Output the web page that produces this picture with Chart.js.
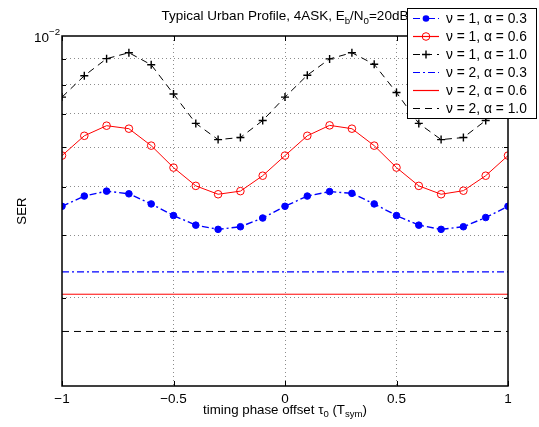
<!DOCTYPE html>
<html>
<head>
<meta charset="utf-8">
<script src="https://cdn.jsdelivr.net/npm/chart.js@4.4.1/dist/chart.umd.min.js"></script>
<style>
  html, body { margin: 0; padding: 0; background: #fff; }
  #wrap { width: 539px; height: 427px; position: relative; }
</style>
</head>
<body>
<div id="wrap"><canvas id="serChart"></canvas></div>
<script>
// timing phase offset (T_sym)
const tau = [-1, -0.9, -0.8, -0.7, -0.6, -0.5, -0.4, -0.3, -0.2, -0.1, 0,
             0.1, 0.2, 0.3, 0.4, 0.5, 0.6, 0.7, 0.8, 0.9, 1];

// nu = 1 curves
const serNu1A03 = [0.00457, 0.00479, 0.00490, 0.00484, 0.00462, 0.00438, 0.00419, 0.00411, 0.00416, 0.00433, 0.00457,
                   0.00479, 0.00489, 0.00485, 0.00462, 0.00438, 0.00419, 0.00411, 0.00416, 0.00434, 0.00457];
const serNu1A06 = [0.00577, 0.00632, 0.00662, 0.00653, 0.00604, 0.00546, 0.00502, 0.00483, 0.00490, 0.00526, 0.00577,
                   0.00632, 0.00663, 0.00653, 0.00604, 0.00546, 0.00502, 0.00483, 0.00491, 0.00526, 0.00577];
const serNu1A10 = [0.00755, 0.00833, 0.00901, 0.00926, 0.00876, 0.00766, 0.00669, 0.00621, 0.00627, 0.00678, 0.00755,
                   0.00835, 0.00900, 0.00926, 0.00878, 0.00771, 0.00669, 0.00621, 0.00627, 0.00678, 0.00755];

// nu = 2 curves are flat over the whole range
const tauEnds = [-1, 1];
const serNu2A03 = [0.00338, 0.00338];
const serNu2A06 = [0.00305, 0.00305];
const serNu2A10 = [0.00257, 0.00257];

const xTickVals = [-1, -0.5, 0, 0.5, 1];
const yGridVals = [0.003, 0.004, 0.005, 0.006, 0.007, 0.008, 0.009];

const legendLabels = [
  "\u03bd = 1, \u03b1 = 0.3",
  "\u03bd = 1, \u03b1 = 0.6",
  "\u03bd = 1, \u03b1 = 1.0",
  "\u03bd = 2, \u03b1 = 0.3",
  "\u03bd = 2, \u03b1 = 0.6",
  "\u03bd = 2, \u03b1 = 1.0",
];

const FONT = "'Liberation Sans', Arial, Helvetica, sans-serif";
const BLUE = "#0000ff", RED = "#ff0000", BLACK = "#000000";
const DASH = [7, 5];
const DASHDOT = [7, 3, 2, 3];
const gridColor = "rgba(0,0,0,0.45)";

const pts = (xs, ys) => xs.map((x, i) => ({ x: x, y: ys[i] }));

const series = [
  { data: pts(tau, serNu1A03), color: BLUE, dash: DASHDOT, marker: "dot" },
  { data: pts(tau, serNu1A06), color: RED, dash: [], marker: "circle" },
  { data: pts(tau, serNu1A10), color: BLACK, dash: DASH, marker: "plus" },
  { data: pts(tauEnds, serNu2A03), color: BLUE, dash: DASHDOT, marker: null },
  { data: pts(tauEnds, serNu2A06), color: RED, dash: [], marker: null },
  { data: pts(tauEnds, serNu2A10), color: BLACK, dash: DASH, marker: null },
];

function pointOpts(s) {
  if (s.marker === "dot") return { pointStyle: "circle", pointRadius: 3.3, pointBackgroundColor: s.color, pointBorderColor: s.color, pointBorderWidth: 1 };
  if (s.marker === "circle") return { pointStyle: "circle", pointRadius: 3.8, pointBackgroundColor: "rgba(0,0,0,0)", pointBorderColor: s.color, pointBorderWidth: 1 };
  if (s.marker === "plus") return { pointStyle: "cross", pointRadius: 4, pointBorderColor: s.color, pointBorderWidth: 1.4 };
  return { pointRadius: 0 };
}

function drawMarker(ctx, kind, x, y, color) {
  ctx.save();
  ctx.setLineDash([]);
  ctx.strokeStyle = color;
  ctx.fillStyle = color;
  if (kind === "dot") {
    ctx.beginPath(); ctx.arc(x, y, 3.3, 0, Math.PI * 2); ctx.fill();
  } else if (kind === "circle") {
    ctx.lineWidth = 1;
    ctx.beginPath(); ctx.arc(x, y, 3.8, 0, Math.PI * 2); ctx.stroke();
  } else if (kind === "plus") {
    ctx.lineWidth = 1.4;
    ctx.beginPath();
    ctx.moveTo(x - 4, y); ctx.lineTo(x + 4, y);
    ctx.moveTo(x, y - 4); ctx.lineTo(x, y + 4);
    ctx.stroke();
  }
  ctx.restore();
}

// draws a run of [text, "sub"|"sup"|null] pieces, returns total width
function richText(ctx, parts, size, x, y, measureOnly) {
  let w = 0;
  parts.forEach(([t, kind]) => {
    const fs = kind ? size * 0.72 : size;
    ctx.font = fs + "px " + FONT;
    const dy = kind === "sub" ? size * 0.3 : kind === "sup" ? -size * 0.45 : 0;
    if (!measureOnly) ctx.fillText(t, x + w, y + dy);
    w += ctx.measureText(t).width;
  });
  return w;
}

const decor = {
  id: "decor",
  afterDatasetsDraw(chart) {
    const { ctx, chartArea: a, scales } = chart;
    ctx.save();
    ctx.strokeStyle = "#000";
    ctx.lineWidth = 1;
    ctx.setLineDash([]);
    // inner tick marks
    ctx.beginPath();
    xTickVals.forEach(v => {
      const px = Math.round(scales.x.getPixelForValue(v)) + 0.5;
      ctx.moveTo(px, a.bottom); ctx.lineTo(px, a.bottom - 5);
      ctx.moveTo(px, a.top); ctx.lineTo(px, a.top + 5);
    });
    yGridVals.forEach(v => {
      const py = Math.round(scales.y.getPixelForValue(v)) + 0.5;
      ctx.moveTo(a.left, py); ctx.lineTo(a.left + 4, py);
      ctx.moveTo(a.right, py); ctx.lineTo(a.right - 4, py);
    });
    ctx.stroke();
    // axes box
    ctx.lineWidth = 1.5;
    ctx.strokeRect(a.left, a.top, a.right - a.left, a.bottom - a.top);
    ctx.restore();
  },
  afterDraw(chart) {
    const { ctx, chartArea: a } = chart;
    const cx = (a.left + a.right) / 2;
    ctx.save();
    ctx.fillStyle = "#000";
    ctx.textBaseline = "alphabetic";
    ctx.textAlign = "left";

    // title
    const title = [["Typical Urban Profile, 4ASK, E", null], ["b", "sub"], ["/N", null], ["0", "sub"], ["=20dB", null]];
    let w = richText(ctx, title, 13.5, 0, 0, true);
    richText(ctx, title, 13.5, cx - w / 2, 19.5, false);

    // x axis title
    const xt = [["timing phase offset \u03c4", null], ["0", "sub"], [" (T", null], ["sym", "sub"], [")", null]];
    w = richText(ctx, xt, 13.3, 0, 0, true);
    richText(ctx, xt, 13.3, cx - w / 2, 413.5, false);

    // y axis title
    ctx.save();
    ctx.translate(26, (a.top + a.bottom) / 2);
    ctx.rotate(-Math.PI / 2);
    ctx.textAlign = "center";
    ctx.font = "13.3px " + FONT;
    ctx.fillText("SER", 0, 0);
    ctx.restore();

    // 10^-2 label at the top decade
    const yTop = chart.scales.y.getPixelForValue(0.01);
    richText(ctx, [["10", null], ["\u22122", "sup"]], 13.5, 34, yTop + 5.5, false);

    // legend box
    const lx = 407, ly = 8, lw = 129, lh = 110;
    ctx.fillStyle = "#fff";
    ctx.fillRect(lx, ly, lw, lh);
    ctx.strokeStyle = "#000";
    ctx.lineWidth = 1;
    ctx.strokeRect(lx + 0.5, ly + 0.5, lw, lh);
    series.forEach((s, i) => {
      const ry = 18 + i * 18;
      ctx.save();
      ctx.strokeStyle = s.color;
      ctx.lineWidth = 1.2;
      ctx.setLineDash(s.dash);
      ctx.beginPath();
      ctx.moveTo(413, ry + 0.5); ctx.lineTo(439, ry + 0.5);
      ctx.stroke();
      ctx.restore();
      if (s.marker) drawMarker(ctx, s.marker, 426, ry + 0.5, s.color);
      ctx.fillStyle = "#000";
      ctx.font = "13.8px " + FONT;
      ctx.textBaseline = "middle";
      ctx.fillText(legendLabels[i], 446, ry + 1);
    });
    ctx.restore();
  }
};

Chart.defaults.font.family = FONT;
Chart.defaults.font.size = 13.5;
Chart.defaults.color = "#000";

new Chart(document.getElementById("serChart"), {
  type: "line",
  data: {
    datasets: series.map((s, i) => Object.assign({
      label: legendLabels[i],
      data: s.data,
      borderColor: s.color,
      backgroundColor: s.color,
      borderWidth: s.dash === DASHDOT ? 1.4 : 1,
      borderDash: s.dash,
      fill: false,
      tension: 0,
    }, pointOpts(s))),
  },
  options: {
    responsive: true,
    maintainAspectRatio: false,
    animation: false,
    layout: { padding: { left: 0, top: 36, right: 31, bottom: 0 } },
    plugins: { legend: { display: false }, title: { display: false }, tooltip: { enabled: false } },
    scales: {
      x: {
        type: "linear",
        min: -1,
        max: 1,
        afterBuildTicks: (s) => { s.ticks = xTickVals.map(v => ({ value: v })); },
        afterFit: (s) => { s.height = 41; },
        ticks: {
          autoSkip: false,
          maxRotation: 0,
          padding: 5,
          color: "#000",
          callback: (v) => String(v).replace("-", "\u2212"),
        },
        grid: {
          drawTicks: false,
          lineWidth: 1,
          color: (c) => (c.tick && Math.abs(c.tick.value) < 1 ? gridColor : "rgba(0,0,0,0)"),
        },
        border: { display: false, dash: [1, 3] },
      },
      y: {
        type: "logarithmic",
        min: 0.002,
        max: 0.01,
        afterBuildTicks: (s) => { s.ticks = yGridVals.map(v => ({ value: v })); },
        afterFit: (s) => { s.width = 62; },
        ticks: { display: false },
        grid: { drawTicks: false, lineWidth: 1, color: gridColor },
        border: { display: false, dash: [1, 3] },
      },
    },
  },
  plugins: [decor],
});
</script>
</body>
</html>
